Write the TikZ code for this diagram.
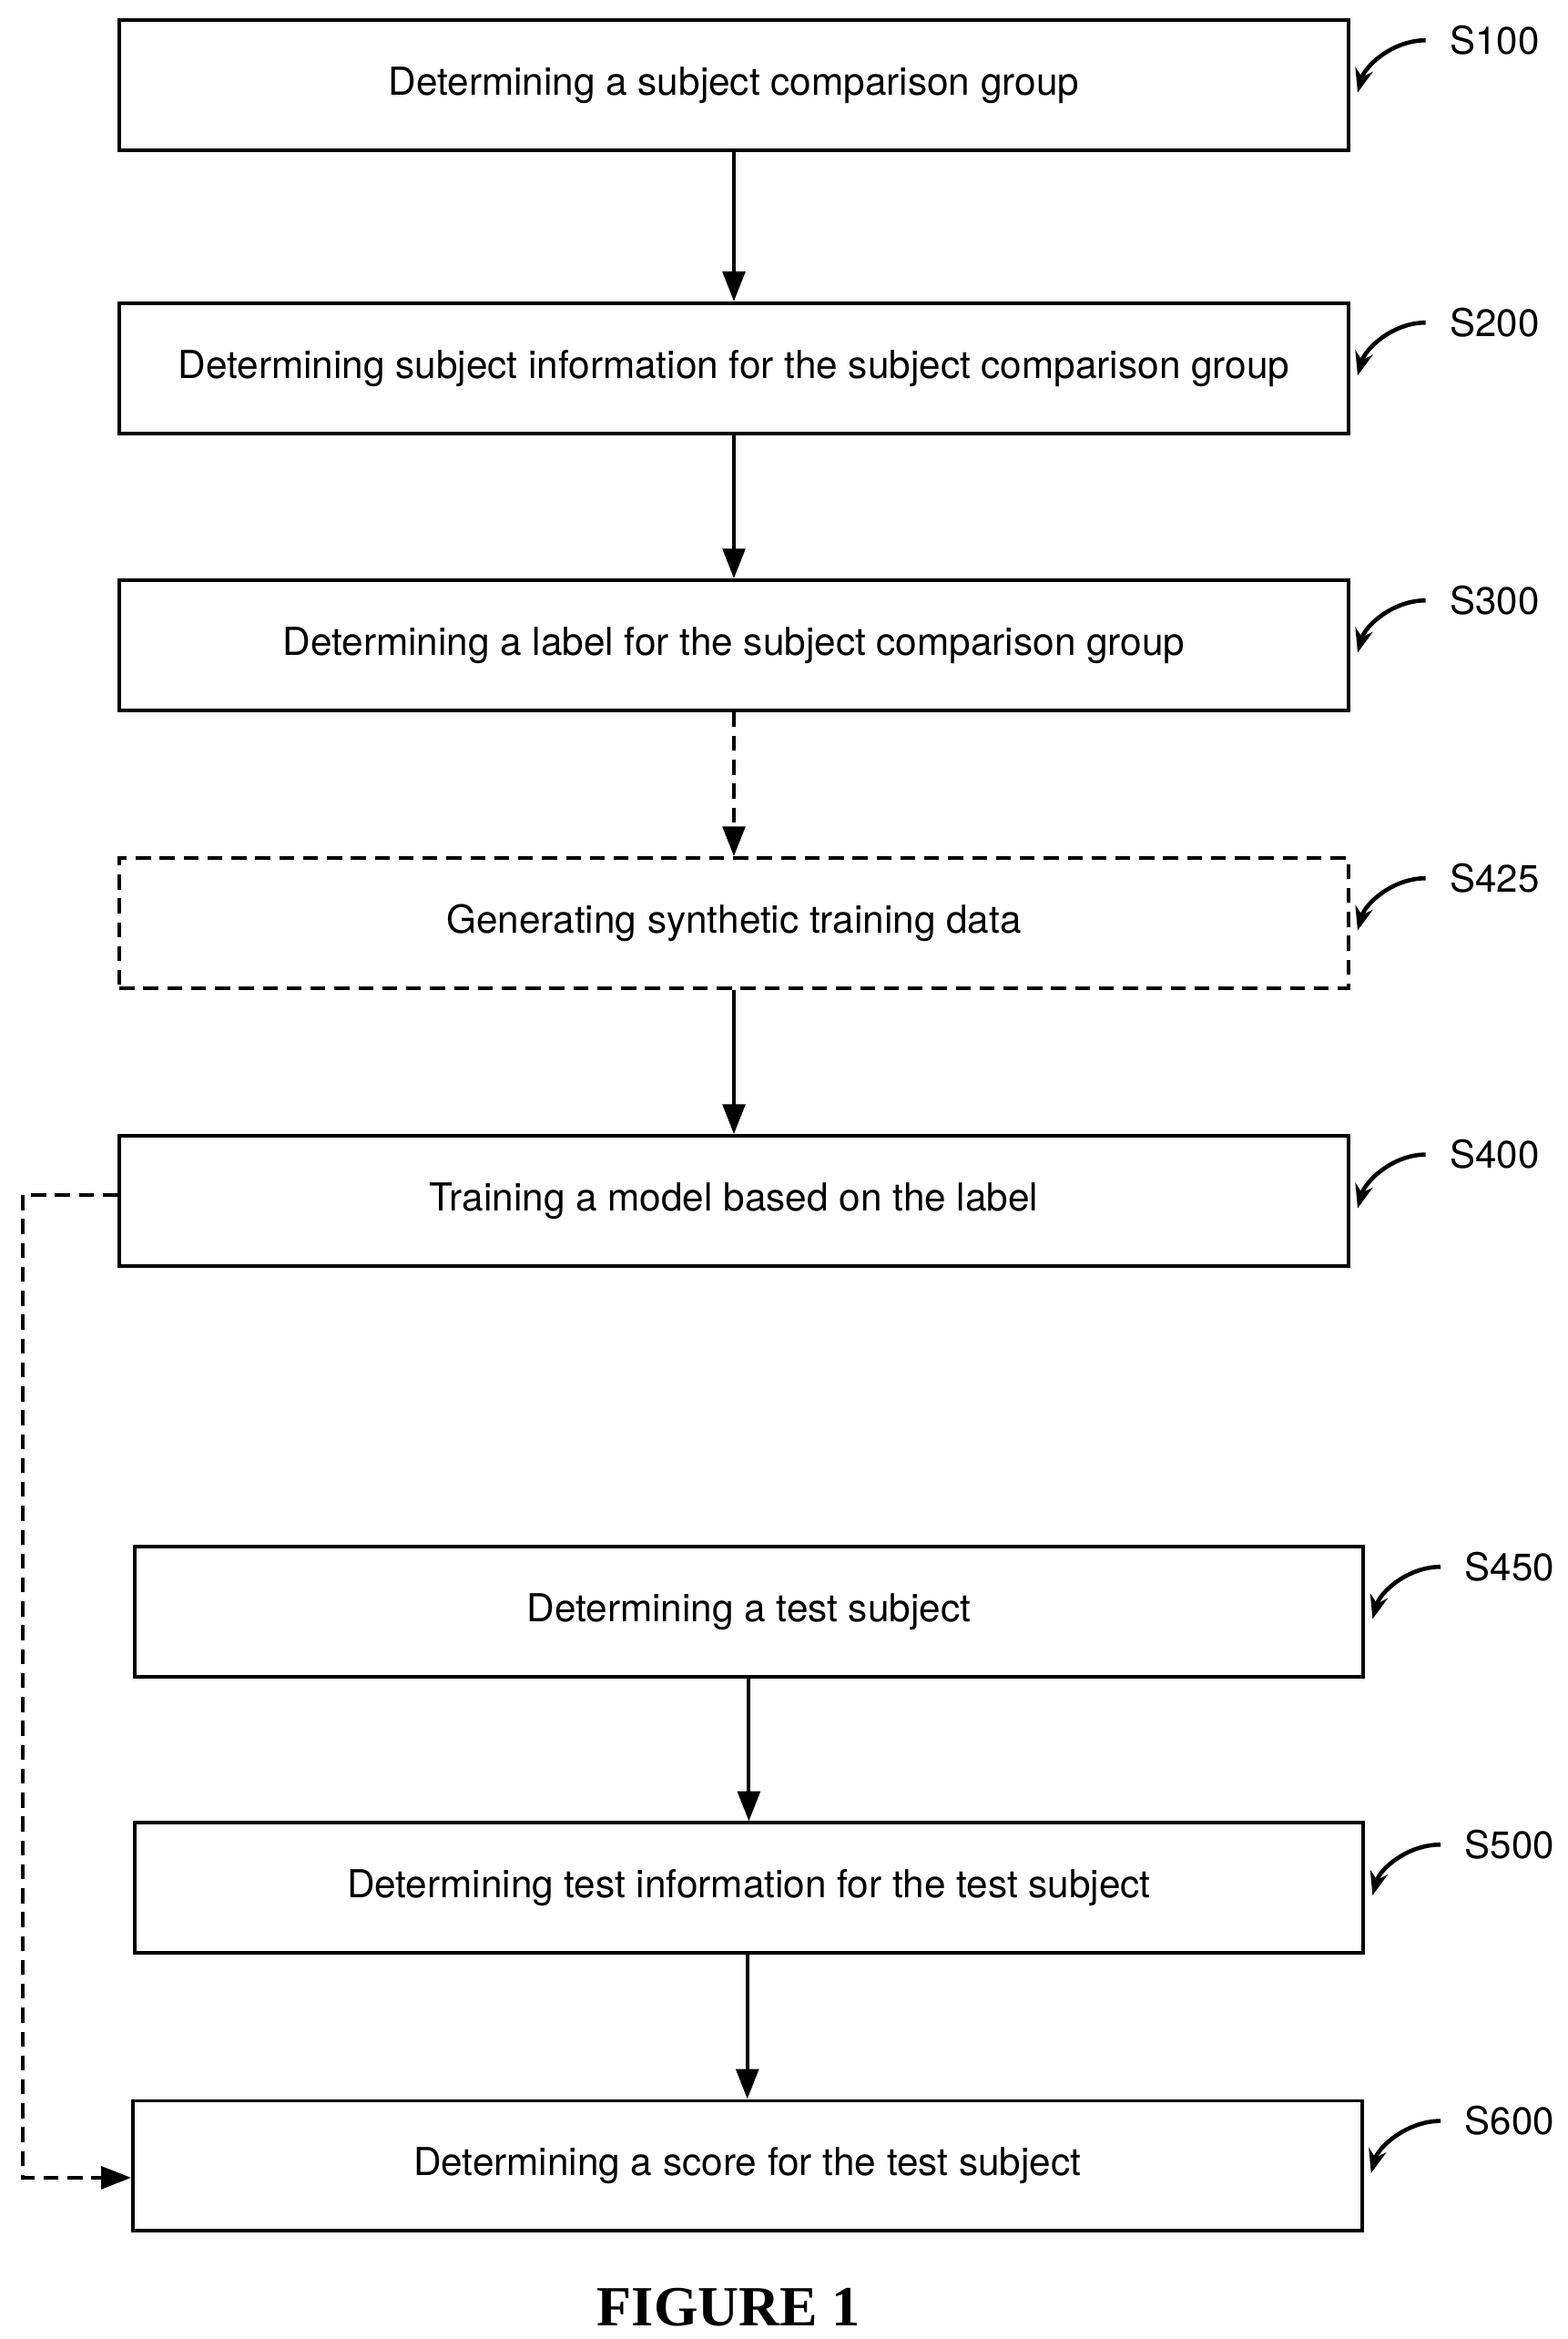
\documentclass[tikz,border=0pt]{standalone}
\usepackage{fontspec}
\setmainfont{TeX Gyre Heros}
\newfontfamily\capfont{Liberation Serif}
\usetikzlibrary{arrows.meta, positioning}

\begin{document}
\begin{tikzpicture}[x=0.5pt, y=-0.5pt]

  % Define styles
  \tikzstyle{stage} = [rectangle, draw, line width=1.2pt, minimum width=411.5pt, minimum height=43.5pt, inner sep=0pt, font=\fontsize{12.9}{15}\selectfont]
  \tikzstyle{dash_line} = [dash pattern=on 5pt off 3pt]
  \tikzstyle{opt_stage} = [stage, dash_line]
  \tikzstyle{tag} = [font=\fontsize{12.8}{15}\selectfont, inner sep=0pt]
  \tikzstyle{flow} = [draw, line width=1.2pt, -{Triangle[length=10pt, width=7.5pt]}]
  \tikzstyle{curl} = [draw, line width=1.4pt, -{Stealth[length=8pt, width=6pt]}]

  \useasboundingbox (0,0) rectangle (1050,1566);

  % Upper chain
  \node[stage] (s100) at (491.5, 57) {Determining a subject comparison group};
  \node[stage] (s200) at (491.5, 246.5) {Determining subject information for the subject comparison group};
  \node[stage] (s300) at (491.5, 432) {Determining a label for the subject comparison group};
  \node[opt_stage] (s425) at (491.5, 618) {Generating synthetic training data};
  \node[stage] (s400) at (491.5, 804) {Training a model based on the label};

  % Lower chain
  \node[stage] (s450) at (501.5, 1079) {Determining a test subject};
  \node[stage] (s500) at (501.5, 1264) {Determining test information for the test subject};
  \node[stage] (s600) at (500.5, 1450) {Determining a score for the test subject};

  % Stage tags
  \foreach \n/\x/\y in {100/1001/27, 200/1001/216, 300/1001/402, 425/1001/588, 400/1001/773,
                        450/1011/1049, 500/1011/1235, 600/1011/1420} {
    \node[tag] (t\n) at (\x, \y) {S\n};
    \draw[curl] ([xshift=-8pt]t\n.west) .. controls +(-22,0) and +(5,-18) .. ([xshift=2.5pt, yshift=-2.5pt]s\n.east);
  }

  % Connections
  \draw[flow] (s100) -- (s200);
  \draw[flow] (s200) -- (s300);
  \draw[flow, dash_line] (s300) -- (s425);
  \draw[flow] (s425) -- (s400);
  \draw[flow] (s450) -- (s500);
  \draw[flow] (s500.south -| s600) -- (s600);

  % Model feedback
  \coordinate (bend1) at (15, 800);
  \draw[flow, dash_line] ([yshift=2pt]s400.west) -- (bend1) |- ([yshift=-4pt]s600.west);

  % Caption
  \node[font=\capfont\bfseries\fontsize{19}{22}\selectfont] (cap) at (488, 1545) {FIGURE 1};

\end{tikzpicture}
\end{document}
